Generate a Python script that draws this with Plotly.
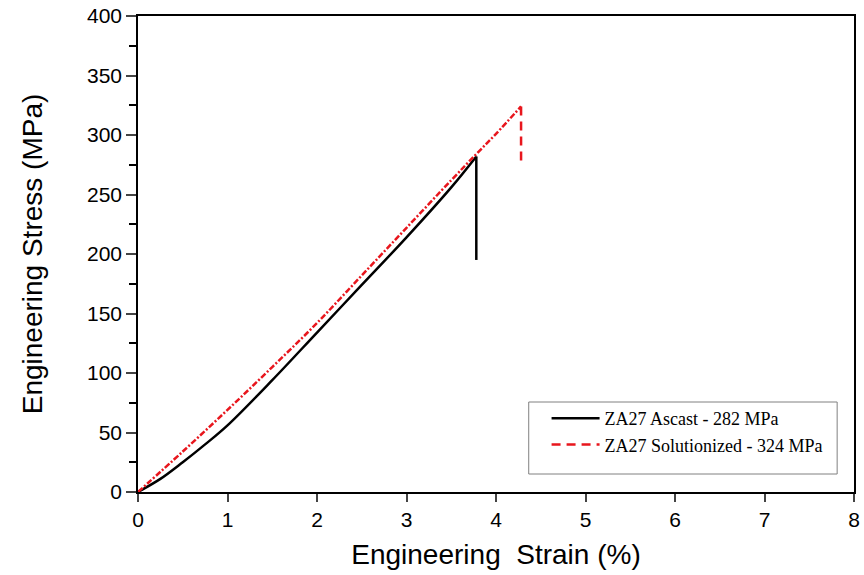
import plotly.graph_objects as go

# Data
ascast_strain = [0, 0.25, 0.5, 0.75, 1.0, 1.5, 2.0, 2.5, 3.0, 3.5, 3.78]
ascast_stress = [0, 11, 25, 40, 56, 94, 134, 174, 214, 256, 282]
ascast_break_stress = 195

sol_strain = [0, 0.5, 1.0, 1.5, 2.0, 2.5, 3.0, 3.5, 3.78, 4.0, 4.28]
sol_stress = [0, 34, 69, 105, 142, 182, 222, 262, 284, 301, 324]
sol_break_stress = 278

names = ["ZA27 Ascast - 282 MPa", "ZA27 Solutionized - 324 MPa"]

fig = go.Figure()
fig.add_trace(go.Scatter(
    x=ascast_strain, y=ascast_stress,
    mode="lines", line=dict(color="black", width=2.5, shape="spline"),
    showlegend=False))
fig.add_trace(go.Scatter(
    x=[ascast_strain[-1], ascast_strain[-1]], y=[ascast_stress[-1], ascast_break_stress],
    mode="lines", line=dict(color="black", width=2.5),
    name=names[0]))
fig.add_trace(go.Scatter(
    x=sol_strain, y=sol_stress, mode="lines",
    line=dict(color="#e8161d", width=2.5, dash="6px,2px,2px,2px", shape="spline"),
    showlegend=False))
fig.add_trace(go.Scatter(
    x=[sol_strain[-1], sol_strain[-1]], y=[sol_stress[-1], sol_break_stress],
    mode="lines", line=dict(color="#e8161d", width=2.5, dash="9px,6px"),
    name=names[1]))

fig.update_layout(
    width=864, height=575,
    margin=dict(l=138, r=4, t=16, b=83),
    paper_bgcolor="white", plot_bgcolor="white",
    font=dict(family="Liberation Sans, Arial", color="black"),
    legend=dict(x=(550-138)/722, y=(492-400)/476, xanchor="left", yanchor="top",
                bgcolor="rgba(0,0,0,0)", borderwidth=0,
                font=dict(family="Liberation Serif, Times New Roman", size=18, color="black"),
                itemwidth=48, tracegroupgap=0),
    shapes=[dict(type="rect", xref="paper", yref="paper",
                 x0=(532-138)/722, x1=(843-138)/722,
                 y0=(492-474)/476, y1=(492-402)/476,
                 line=dict(color="#808080", width=1))],
)
fig.update_xaxes(
    range=[0, 8], dtick=1, ticks="outside", ticklen=8, tickwidth=1.5,
    showline=True, linecolor="black", linewidth=1.5, mirror=True,
    showgrid=False, zeroline=False,
    tickfont=dict(size=21),
    title=dict(text="Engineering  Strain (%)", font=dict(size=28), standoff=14),
    minor=dict(ticks="", showgrid=False))
fig.update_yaxes(
    range=[0, 400], dtick=50, ticks="outside", ticklen=10, tickwidth=1.5,
    showline=True, linecolor="black", linewidth=1.5, mirror=True,
    showgrid=False, zeroline=False,
    tickfont=dict(size=21),
    title=dict(text="Engineering Stress (MPa)", font=dict(size=28), standoff=36),
    minor=dict(ticks="outside", ticklen=7, tickwidth=1.5, dtick=25, tickcolor="black"))

fig.write_html("out.html")
